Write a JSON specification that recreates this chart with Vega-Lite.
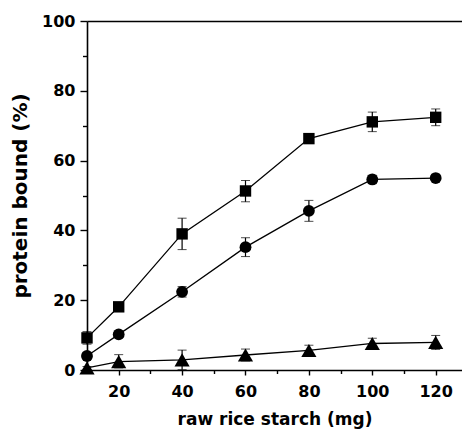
{
  "$schema": "https://vega.github.io/schema/vega-lite/v6.json",
  "autosize": "none",
  "width": 375,
  "height": 349,
  "padding": {"left": 87, "top": 21, "right": 0, "bottom": 70},
  "config": {
    "view": {"stroke": null},
    "axis": {"labelFont": "DejaVu Sans", "titleFont": "DejaVu Sans", "labelFontWeight": "bold", "titleFontWeight": "bold", "labelFontSize": 16, "titleFontSize": 17, "labelColor": "black", "titleColor": "black", "domainColor": "black", "tickColor": "black", "domainWidth": 1.6, "tickWidth": 1.4, "grid": false}
  },
  "data": {"values": [
    {"s": "A", "x": 10, "y": 9.2, "lo": 7.4, "hi": 11.0},
    {"s": "A", "x": 20, "y": 18.1, "lo": 17.0, "hi": 19.2},
    {"s": "A", "x": 40, "y": 39.0, "lo": 34.5, "hi": 43.5},
    {"s": "A", "x": 60, "y": 51.3, "lo": 48.2, "hi": 54.3},
    {"s": "A", "x": 80, "y": 66.3, "lo": 65.3, "hi": 67.3},
    {"s": "A", "x": 100, "y": 71.1, "lo": 68.3, "hi": 73.9},
    {"s": "A", "x": 120, "y": 72.4, "lo": 70.0, "hi": 74.8},
    {"s": "B", "x": 10, "y": 4.0, "lo": 3.0, "hi": 5.0},
    {"s": "B", "x": 20, "y": 10.2, "lo": 9.4, "hi": 11.0},
    {"s": "B", "x": 40, "y": 22.4, "lo": 20.9, "hi": 23.9},
    {"s": "B", "x": 60, "y": 35.2, "lo": 32.5, "hi": 37.9},
    {"s": "B", "x": 80, "y": 45.6, "lo": 42.6, "hi": 48.6},
    {"s": "B", "x": 100, "y": 54.6, "lo": 53.4, "hi": 55.8},
    {"s": "B", "x": 120, "y": 55.0, "lo": 54.5, "hi": 55.5},
    {"s": "C", "x": 10, "y": 0.6, "lo": 0.2, "hi": 1.0},
    {"s": "C", "x": 20, "y": 2.4, "lo": 0.6, "hi": 4.4},
    {"s": "C", "x": 40, "y": 2.9, "lo": 0.1, "hi": 5.7},
    {"s": "C", "x": 60, "y": 4.3, "lo": 2.6, "hi": 6.0},
    {"s": "C", "x": 80, "y": 5.6, "lo": 4.1, "hi": 7.1},
    {"s": "C", "x": 100, "y": 7.6, "lo": 6.1, "hi": 9.1},
    {"s": "C", "x": 120, "y": 7.9, "lo": 5.9, "hi": 9.9}
  ]},
  "resolve": {"axis": {"x": "independent", "y": "independent"}},
  "layer": [
    {
      "mark": {"type": "line", "color": "black", "strokeWidth": 1.3},
      "encoding": {
        "x": {"field": "x", "type": "quantitative", "scale": {"domain": [10, 128.3], "nice": false, "zero": false}, "axis": {"orient": "bottom", "values": [20, 40, 60, 80, 100, 120], "tickSize": 5, "labelPadding": 8, "title": "raw rice starch (mg)", "titlePadding": 12}},
        "y": {"field": "y", "type": "quantitative", "scale": {"domain": [0, 100], "nice": false}, "axis": {"orient": "left", "values": [0, 20, 40, 60, 80, 100], "tickSize": 7, "labelPadding": 5, "title": "protein bound (%)", "titleFontSize": 20, "titlePadding": 11}},
        "detail": {"field": "s"}
      }
    },
    {
      "mark": {"type": "rule", "opacity": 0},
      "encoding": {
        "x": {"field": "x", "type": "quantitative", "axis": {"orient": "bottom", "values": [30, 50, 70, 90, 110], "labels": false, "tickSize": 3.5, "domain": false, "title": null}},
        "y": {"field": "y", "type": "quantitative", "axis": {"orient": "left", "values": [10, 30, 50, 70, 90], "labels": false, "tickSize": 4.5, "domain": false, "title": null}}
      }
    },
    {
      "mark": {"type": "rule", "opacity": 0},
      "encoding": {
        "x": {"field": "x", "type": "quantitative", "axis": {"orient": "top", "labels": false, "ticks": false, "domain": true, "title": null}}
      }
    },
    {
      "mark": {"type": "errorbar", "ticks": {"size": 9, "color": "black", "strokeWidth": 1.3}, "rule": {"color": "black", "strokeWidth": 1.2}},
      "encoding": {
        "x": {"field": "x", "type": "quantitative", "axis": null},
        "y": {"field": "lo", "type": "quantitative", "axis": null},
        "y2": {"field": "hi"},
        "detail": {"field": "s"}
      }
    },
    {
      "transform": [{"filter": "datum.s === 'A'"}],
      "mark": {"type": "point", "shape": "square", "size": 130, "filled": true, "opacity": 1, "color": "black"},
      "encoding": {
        "x": {"field": "x", "type": "quantitative", "axis": null},
        "y": {"field": "y", "type": "quantitative", "axis": null}
      }
    },
    {
      "transform": [{"filter": "datum.s === 'B'"}],
      "mark": {"type": "point", "shape": "circle", "size": 140, "filled": true, "opacity": 1, "color": "black"},
      "encoding": {
        "x": {"field": "x", "type": "quantitative", "axis": null},
        "y": {"field": "y", "type": "quantitative", "axis": null}
      }
    },
    {
      "transform": [{"filter": "datum.s === 'C'"}],
      "mark": {"type": "point", "shape": "triangle-up", "size": 230, "filled": true, "opacity": 1, "color": "black"},
      "encoding": {
        "x": {"field": "x", "type": "quantitative", "axis": null},
        "y": {"field": "y", "type": "quantitative", "axis": null}
      }
    }
  ]
}
